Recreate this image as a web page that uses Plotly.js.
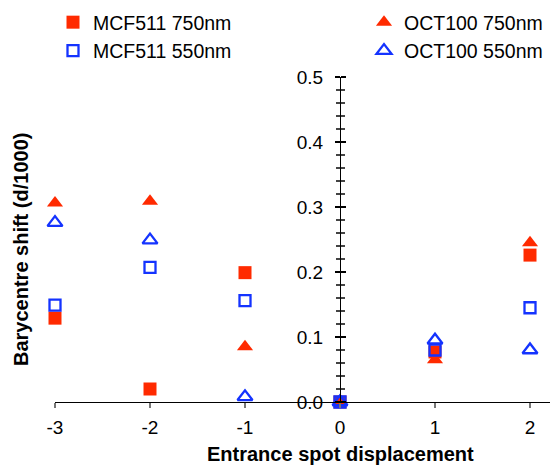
<!DOCTYPE html>
<html>
<head>
<meta charset="utf-8">
<script src="https://cdn.plot.ly/plotly-3.0.1.min.js"></script>
<style>html,body{margin:0;padding:0;background:#fff;}#chart{width:550px;height:466px;}</style>
</head>
<body>
<div id="chart"></div>
<script>
var displacement = [-3, -2, -1, 0, 1, 2];
var mcf750 = [0.129, 0.020, 0.199, 0, 0.077, 0.226];
var mcf550 = [0.149, 0.207, 0.156, 0, 0.080, 0.145];
var oct750 = [0.306, 0.309, 0.085, 0, 0.065, 0.245];
var oct550 = [0.276, 0.249, 0.008, 0, 0.095, 0.080];
var seriesNames = ['MCF511 750nm', 'MCF511 550nm', 'OCT100 750nm', 'OCT100 550nm'];

var RED = '#FF2A00', BLUE = '#1433FF';
var FONT = 'Liberation Sans, Arial, sans-serif';

var traces = [
  {x: displacement, y: mcf750, name: seriesNames[0], mode: 'markers', type: 'scatter', cliponaxis: false,
   legend: 'legend', legendgroup: 'a',
   marker: {symbol: 'square', size: 13, color: RED}},
  {x: displacement, y: oct750, name: seriesNames[2], mode: 'markers', type: 'scatter', cliponaxis: false,
   legend: 'legend2', legendgroup: 'c',
   marker: {symbol: 'triangle-up', size: 14, color: RED}},
  {x: displacement, y: mcf550, name: seriesNames[1], mode: 'markers', type: 'scatter', cliponaxis: false,
   legend: 'legend', legendgroup: 'b',
   marker: {symbol: 'square-open', size: 11, color: BLUE, line: {width: 2.3, color: BLUE}}},
  {x: displacement, y: oct550, name: seriesNames[3], mode: 'markers', type: 'scatter', cliponaxis: false,
   legend: 'legend2', legendgroup: 'd',
   marker: {symbol: 'triangle-up-open', size: 13, color: BLUE, line: {width: 2.3, color: BLUE}}},
  {x: [], y: [], yaxis: 'y2', type: 'scatter', mode: 'markers', showlegend: false, hoverinfo: 'skip'}
];

var yPos = (340 - 55) / 495;
var legendCommon = {
  xref: 'container', yref: 'container', xanchor: 'left', yanchor: 'top',
  bgcolor: 'rgba(0,0,0,0)', borderwidth: 0,
  font: {family: FONT, size: 19.5, color: '#000'},
  traceorder: 'grouped', tracegroupgap: 0
};

var layout = {
  width: 550, height: 466,
  margin: {l: 55, r: 0, t: 77, b: 64, autoexpand: false},
  paper_bgcolor: '#fff', plot_bgcolor: '#fff',
  showlegend: true,
  legend: Object.assign({x: 53 / 550, y: 1 - 3 / 466}, legendCommon),
  legend2: Object.assign({x: 364 / 550, y: 1 - 3 / 466}, legendCommon),
  xaxis: {
    range: [-3, 2.2105], showgrid: false, zeroline: false, automargin: false,
    showline: true, linecolor: '#000', linewidth: 1,
    ticks: 'outside', ticklen: 5, tickcolor: '#777', tickwidth: 1.5,
    tickvals: displacement, ticktext: displacement.map(String),
    tickfont: {family: FONT, size: 19, color: '#000'},
    ticklabelstandoff: 3,
    title: {text: ''}
  },
  yaxis: {
    range: [0, 0.5], showgrid: false, zeroline: false, automargin: false,
    anchor: 'free', position: yPos,
    showline: true, linecolor: '#000', linewidth: 1,
    ticks: 'outside', ticklen: 5, tickcolor: '#000', tickwidth: 1.3,
    dtick: 0.1, tickformat: '.1f',
    minor: {dtick: 0.02, ticks: 'outside', ticklen: 4, tickcolor: '#444', tickwidth: 1.3},
    tickfont: {family: FONT, size: 19, color: '#000'},
    ticklabelstandoff: 8,
    title: {text: ''}
  },
  yaxis2: {
    range: [0, 0.5], overlaying: 'y', side: 'right', anchor: 'free', position: yPos, automargin: false,
    showgrid: false, zeroline: false, showline: false, showticklabels: false,
    ticks: 'outside', ticklen: 5, tickcolor: '#000', tickwidth: 1.3, dtick: 0.1,
    minor: {dtick: 0.02, ticks: 'outside', ticklen: 4, tickcolor: '#444', tickwidth: 1.3}
  },
  annotations: [{
    text: '<b>Barycentre shift (d/1000)</b>', textangle: -90,
    xref: 'paper', yref: 'paper', x: -34 / 495, y: (402 - 250) / 325,
    xanchor: 'center', yanchor: 'middle', showarrow: false,
    font: {family: FONT, size: 20, color: '#000'}
  }, {
    text: '<b>Entrance spot displacement</b>',
    xref: 'paper', yref: 'paper', x: (340 - 55) / 495, y: -(454 - 402) / 325,
    xanchor: 'center', yanchor: 'middle', showarrow: false,
    font: {family: FONT, size: 20, color: '#000'}
  }]
};

Plotly.newPlot('chart', traces, layout, {staticPlot: true, displayModeBar: false});
</script>
</body>
</html>
